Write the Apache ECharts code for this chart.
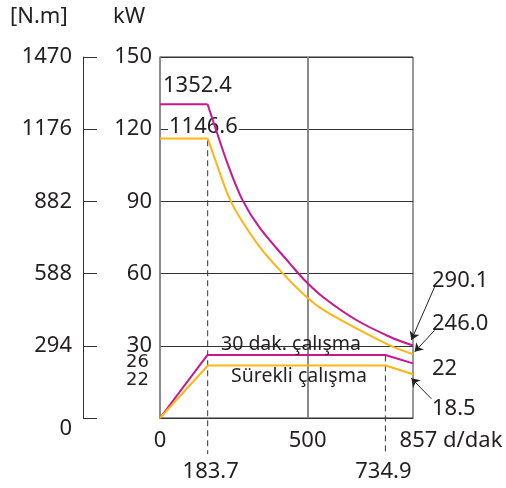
<!DOCTYPE html>
<html>
<head>
<meta charset="utf-8">
<script src="https://cdn.jsdelivr.net/npm/echarts@6/dist/echarts.min.js"></script>
<style>
html,body{margin:0;padding:0;background:#fff;}
#chart{width:506px;height:488px;}
</style>
</head>
<body>
<div id="chart"></div>
<script>
// ---- data ----
const xTickValues = [0, 500, 857];          // d/dak
const kwTicks = { min: 0, max: 150, interval: 30 };
const nmTicks = { min: 0, max: 1470, interval: 294 };

// torque curves, N.m vs speed (d/dak)
const torque30Flat  = [[0, 1278], [161, 1278]];
const torque30Curve = [[161, 1278], [188, 1180], [231, 1029], [280, 886], [338, 774], [440, 629],
                       [490, 561], [552, 493], [665, 399], [778, 331], [857, 295]];
const torqueContFlat  = [[0, 1138], [162, 1138]];
const torqueContCurve = [[162, 1138], [200, 1007], [236, 892], [273, 811], [338, 696], [412, 594],
                         [490, 500], [552, 441], [665, 365], [778, 296], [857, 260]];

// power curves, kW vs speed
const power30   = [[0, 0], [161, 26.2], [763, 26.2], [857, 22.7]];
const powerCont = [[0, 0], [162, 21.8], [764, 21.8], [857, 18.2]];

// reference speeds (dashed guides) and their labels
const guideA = [[161.5, 115.4], [161.5, -15]];
const guideB = [[763.5, 26], [763.5, -15]];
const guideLabels = ['183.7', '734.9'];

// callout arrows [from, to] in (speed, kW) units
const calloutArrows = [
  [[930, 54.4], [851.5, 32.4]],
  [[930, 36.4], [862.7, 27.5]],
  [[919, 8.0], [851.5, 16.5]]
];

const MAG = '#c8178c';
const ORA = '#fdb515';
const TXT = '#231f20';
const FONT = '"Noto Sans", sans-serif';

const chart = echarts.init(document.getElementById('chart'));

function txt(text, x, y, size, align, family) {
  return {
    type: 'text', x: x, y: y, z: 100,
    style: {
      text: text, fill: TXT,
      font: size + 'px ' + (family || FONT),
      textAlign: align || 'left', align: align || 'left',
      textVerticalAlign: 'middle', verticalAlign: 'middle'
    }
  };
}

function guideSeries(pts, label, dx) {
  return {
    type: 'line', yAxisIndex: 0, clip: false, z: 3,
    symbol: 'circle', symbolSize: 1, showSymbol: true,
    itemStyle: { color: 'rgba(0,0,0,0)' },
    lineStyle: { color: '#333', width: 1, type: [6, 4] },
    data: [
      { value: pts[0], label: { show: false } },
      { value: pts[1], label: { show: true, position: 'bottom', distance: 6, offset: [dx, 0],
          formatter: label, fontSize: 22, color: TXT, fontFamily: FONT } }
    ]
  };
}

const option = {
  animation: false,
  backgroundColor: '#fff',
  grid: { left: 160, right: 93, top: 57, bottom: 70, show: true, borderColor: '#333', borderWidth: 1 },
  xAxis: {
    type: 'value', min: 0, max: 857,
    axisLine: { show: true, lineStyle: { color: '#333', width: 1 } },
    axisTick: { show: false },
    splitLine: { show: false },
    axisLabel: {
      customValues: xTickValues, margin: 12, fontSize: 22, color: TXT, fontFamily: FONT,
      formatter: v => (v === 857 ? '{e|857 d/dak}' : String(v)),
      rich: { e: { fontSize: 22, color: TXT, fontFamily: FONT, padding: [0, 0, 0, 76] } }
    }
  },
  yAxis: [
    {
      type: 'value', min: kwTicks.min, max: kwTicks.max, interval: kwTicks.interval, position: 'left',
      axisLine: { show: true, lineStyle: { color: '#888', width: 1.5 } },
      axisTick: { show: false },
      axisLabel: { margin: 8, fontSize: 22, color: TXT, fontFamily: FONT,
                   formatter: v => (v === 0 ? '' : String(v)) },
      splitLine: { show: true, lineStyle: { color: '#333', width: 1 } }
    },
    {
      type: 'value', min: nmTicks.min, max: nmTicks.max, interval: nmTicks.interval, position: 'left', offset: 77,
      axisLine: { show: true, lineStyle: { color: '#333', width: 1 } },
      axisTick: { show: true, inside: true, length: 14, lineStyle: { color: '#333', width: 1 } },
      axisLabel: { margin: 11, fontSize: 22, color: TXT, fontFamily: FONT,
                   formatter: v => (v === 0 ? '{z|0}' : String(v)),
                   rich: { z: { fontSize: 22, color: TXT, fontFamily: FONT, padding: [22, 0, 0, 0] } } },
      splitLine: { show: false }
    }
  ],
  series: [
    { type: 'line', yAxisIndex: 1, data: torque30Flat, symbol: 'none', lineStyle: { color: MAG, width: 2 }, z: 5 },
    { type: 'line', yAxisIndex: 1, data: torque30Curve, symbol: 'none', smooth: 0.35,
      lineStyle: { color: MAG, width: 2 }, z: 5 },
    { type: 'line', yAxisIndex: 1, data: torqueContFlat, symbol: 'none', lineStyle: { color: ORA, width: 2 }, z: 5 },
    { type: 'line', yAxisIndex: 1, data: torqueContCurve, symbol: 'none', smooth: 0.35,
      lineStyle: { color: ORA, width: 2 }, z: 5 },
    {
      type: 'line', yAxisIndex: 0, data: power30, symbol: 'none', lineStyle: { color: MAG, width: 2 }, z: 5,
      markLine: {
        silent: true, symbol: 'none', label: { show: false }, z: 1,
        lineStyle: { color: '#8a8a8a', width: 2, type: 'solid' },
        data: [{ xAxis: 500 }]
      }
    },
    { type: 'line', yAxisIndex: 0, data: powerCont, symbol: 'none', lineStyle: { color: ORA, width: 2 }, z: 5 },
    guideSeries(guideA, guideLabels[0], 3),
    guideSeries(guideB, guideLabels[1], -2),
    {
      type: 'lines', coordinateSystem: 'cartesian2d', xAxisIndex: 0, yAxisIndex: 0, clip: false, z: 6,
      symbol: ['none', 'arrow'], symbolSize: [0, 8],
      lineStyle: { color: '#222', width: 1, opacity: 1 },
      data: calloutArrows.map(a => ({ coords: a }))
    }
  ],
  graphic: [
    txt('[N.m]', 10, 17, 22),
    txt('kW', 113, 17, 22),
    txt('26', 126, 362, 18, 'left', '"DejaVu Sans", sans-serif'),
    txt('22', 126, 380, 18, 'left', '"DejaVu Sans", sans-serif'),
    txt('1352.4', 163, 85.5, 22),
    txt('1146.6', 168, 127, 22),
    txt('30 dak. çalışma', 221, 344, 19.5),
    txt('Sürekli çalışma', 231, 376, 19.5),
    txt('290.1', 432, 281, 22),
    txt('246.0', 432, 324, 22),
    txt('22', 432, 369, 22),
    txt('18.5', 432, 409, 22)
  ]
};
// white backing behind the 1146.6 label (gridline passes behind it, curve passes over it)
option.graphic[5].z = 1;
option.graphic[5].style.backgroundColor = '#fff';
option.graphic[5].style.padding = [0, 1, 0, 1];

chart.setOption(option);
</script>
</body>
</html>
